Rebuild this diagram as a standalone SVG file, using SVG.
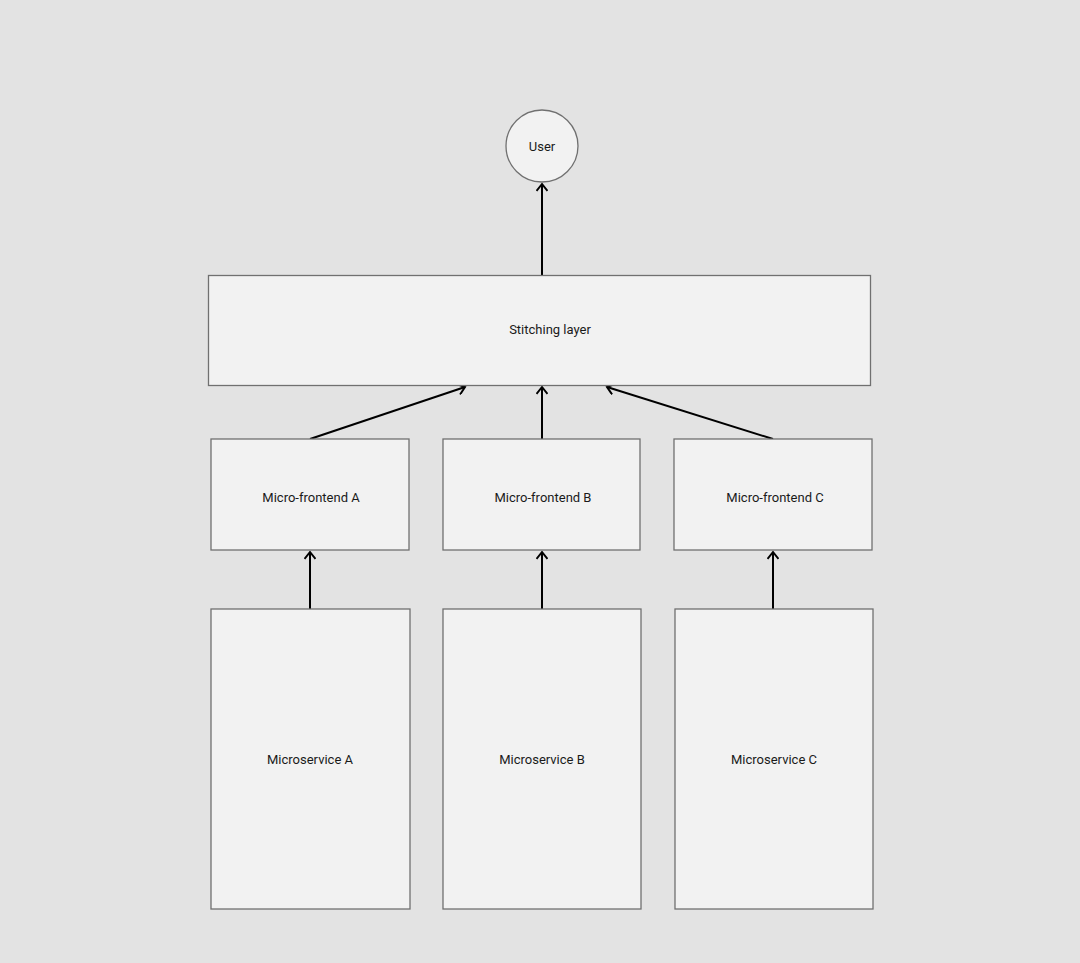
<svg xmlns="http://www.w3.org/2000/svg" width="1080" height="963" viewBox="0 0 1080 963">
<style>
.box{fill:#f2f2f2;stroke:#707070;stroke-width:1.3}
.lbl{font-family:Roboto,"Liberation Sans",sans-serif;font-size:13px;fill:#1a1a1a;text-anchor:middle;dominant-baseline:central}
.edge{stroke:#000;stroke-width:2;fill:none;marker-end:url(#arr)}
</style>
<defs>
<marker id="arr" markerWidth="12" markerHeight="12" refX="10" refY="6" orient="auto" markerUnits="userSpaceOnUse">
<path d="M3,0.5 L10,6 L3,11.5" fill="none" stroke="#000" stroke-width="2"/>
</marker>
</defs>
<rect width="1080" height="963" fill="#e3e3e3"/>
<g id="connectors">
<line class="edge" x1="542" y1="275" x2="542" y2="184"/>
<line class="edge" x1="310" y1="439" x2="465" y2="387"/>
<line class="edge" x1="542" y1="439" x2="542" y2="387"/>
<line class="edge" x1="773" y1="439" x2="607" y2="387"/>
<line class="edge" x1="310" y1="609" x2="310" y2="552"/>
<line class="edge" x1="542" y1="609" x2="542" y2="552"/>
<line class="edge" x1="773" y1="609" x2="773" y2="552"/>
</g>
<g id="user"><circle class="box" cx="542" cy="146" r="36"/><text class="lbl" x="542" y="146">User</text></g>
<g id="stitching"><rect class="box" x="208.5" y="275.5" width="662" height="110"/><text class="lbl" x="550" y="329">Stitching layer</text></g>
<g id="mfa"><rect class="box" x="211" y="439" width="198" height="111"/><text class="lbl" x="311" y="497">Micro-frontend A</text></g>
<g id="mfb"><rect class="box" x="443" y="439" width="197" height="111"/><text class="lbl" x="543" y="497">Micro-frontend B</text></g>
<g id="mfc"><rect class="box" x="674" y="439" width="198" height="111"/><text class="lbl" x="775" y="497">Micro-frontend C</text></g>
<g id="msa"><rect class="box" x="211" y="609" width="199" height="300"/><text class="lbl" x="310" y="759">Microservice A</text></g>
<g id="msb"><rect class="box" x="443" y="609" width="198" height="300"/><text class="lbl" x="542" y="759">Microservice B</text></g>
<g id="msc"><rect class="box" x="675" y="609" width="198" height="300"/><text class="lbl" x="774" y="759">Microservice C</text></g>
</svg>
